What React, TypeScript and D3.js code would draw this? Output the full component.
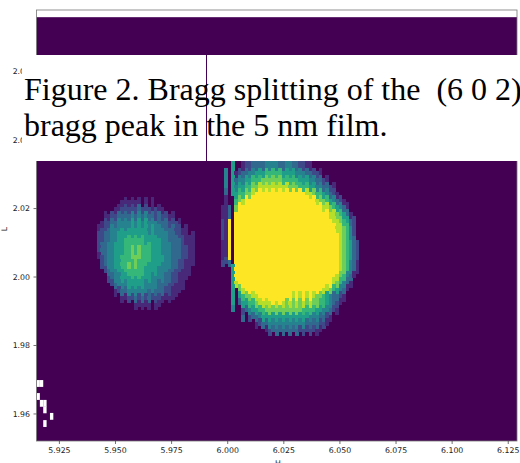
import React from "react";
import * as d3 from "d3";

const xTicks = [5.925, 5.95, 5.975, 6.0, 6.025, 6.05, 6.075, 6.1, 6.125];
const yTicks = [1.96, 1.98, 2.0, 2.02, 2.04, 2.06];
const xLabel = "H";
const yLabel = "L";
const captionLines = ["Figure 2. Bragg splitting of the  (6 0 2)", "bragg peak in the 5 nm film."];

// Intensity levels 0-9 per row (top to bottom, left to right)
const mainPeakLevels = [
  "0000500122333344443344332211",
  "0000500122333344443344332211",
  "0040512334455566666555544433221",
  "004053445566677777766666555443321",
  "00405455667788888888877766655443321",
  "00305566778" + "9999999999" + "99999" + "8876654321",
  "00100678" + "9999999999" + "9999999999" + "9" + "877654321",
  "011307" + "9999999999" + "9999999999" + "99999" + "88765431",
  "01130" + "9999999999" + "9999999999" + "99999999" + "8876531",
  "02190" + "9999999999" + "9999999999" + "999999999" + "8876532",
  "02190" + "9999999999" + "9999999999" + "9999999999" + "887642",
  "02190" + "9999999999" + "9999999999" + "9999999999" + "9" + "87642",
  "01190" + "9999999999" + "9999999999" + "9999999999" + "9" + "876532",
  "01190" + "9999999999" + "9999999999" + "9999999999" + "9" + "876532",
  "01190" + "9999999999" + "9999999999" + "9999999999" + "9" + "876532",
  "02230" + "9999999999" + "9999999999" + "9999999999" + "9" + "876431",
  "00005" + "9999999999" + "9999999999" + "9999999999" + "9" + "876431",
  "00005" + "9999999999" + "9999999999" + "9999999999" + "876431",
  "000058" + "9999999999" + "9999999999" + "99999999" + "876431",
  "00005078" + "9999999999" + "9999999999" + "999" + "88765431",
  "0000505677889999" + "99999" + "9898989" + "8776543321",
  "000050355667888" + "8989878787878" + "776654321",
  "000040023455667777777777766665544321",
  "0000000302334555555555555554443321",
  "00000000000123344444444444333322" + "1",
  "00000000000000123333333322222" + "11",
];

const sidePeakLevels = [
  "00000001111110101",
  "00000112222232221211",
  "00112233334343433232211",
  "0122334444545454443332221",
  "122344454555555454443332211",
  "22334455565656555544433322111",
  "23344555666666565554443332111",
  "23344555667676665554443332211",
  "12344556667776665555443332211",
  "02344556676766655554443322111",
  "0023445566666655554443322111",
  "000234455565655544443322111",
  "00002344455555444433322111",
  "0000012334444443433322111",
  "00000001122323232221111",
  "0000000000011111011",
];

// Missing (white) cells near the lower left corner: column index, L centre
const missingCols = [0, 1, 0, 1, 2, 2, 4, 2];
const missingL = [1.9689, 1.9689, 1.9651, 1.9631, 1.9631, 1.9612, 1.9593, 1.9572];

const mainTopL = 2.0359;
const mainStartH = 5.9955;
const sideTopL = 2.02336;
const sideStartH = 5.9417;
const startH = 5.9148;
const endH = 6.1289;
const heatTopL = 2.0759;
const axisTopL = 2.078;
const axisBottomL = 1.9521;
const dH = 0.0015;
const dL = 0.002;

const W = 520;
const H = 463;
const PURPLE = "#440154";
const MONO = "'DejaVu Sans', sans-serif";

export default function App() {
  const x = d3.scaleLinear().domain([startH, endH]).range([36.5, 517]);
  const y = d3.scaleLinear().domain([axisBottomL, axisTopL]).range([441, 10]);
  const color = d3.scaleSequential(d3.interpolateViridis).domain([0, 9]);
  const cw = x(startH + dH) - x(startH);
  const ch = y(1.96) - y(1.96 + dL);

  const drawCells = (rows: string[], h0: number, l0: number, key: string) =>
    rows.flatMap((row, r) =>
      row.split("").map((c, i) => {
        const v = +c;
        if (!v) return null;
        const top = l0 - r * dL - (i % 2 ? dL / 2 : 0);
        return (
          <rect
            key={`${key}-${r}-${i}`}
            x={x(h0 + i * dH)}
            y={y(top)}
            width={cw + 0.3}
            height={ch + 0.3}
            fill={color(v) as string}
            shapeRendering="crispEdges"
          />
        );
      })
    );

  return (
    <svg
      width={W}
      height={H}
      viewBox={`0 0 ${W} ${H}`}
      style={{ position: "fixed", left: 0, top: 0, display: "block", background: "#fff" }}
    >
      <rect
        x={x(startH)}
        y={y(heatTopL)}
        width={x(endH) - x(startH)}
        height={y(axisBottomL) - y(heatTopL)}
        fill={PURPLE}
      />
      {drawCells(sidePeakLevels, sideStartH, sideTopL, "s")}
      {drawCells(mainPeakLevels, mainStartH, mainTopL, "m")}
      {missingCols.map((c, i) => (
        <rect
          key={`n${i}`}
          x={x(startH + c * dH)}
          y={y(missingL[i] + dL / 2)}
          width={cw}
          height={ch}
          fill="#fff"
        />
      ))}
      <rect
        x={x.range()[0]}
        y={y(axisTopL)}
        width={x.range()[1] - x.range()[0]}
        height={y(axisBottomL) - y(axisTopL)}
        fill="none"
        stroke="#777"
        strokeWidth={0.8}
      />
      {xTicks.map((t) => (
        <g key={t} transform={`translate(${x(t)},441)`}>
          <line y2={3} stroke="#333" strokeWidth={0.7} />
          <text y={12} textAnchor="middle" fontFamily={MONO} fontSize={7.8} fill="#222">
            {d3.format(".3f")(t)}
          </text>
        </g>
      ))}
      {yTicks.map((t) => (
        <g key={t} transform={`translate(36.5,${y(t)})`}>
          <line x2={-3} stroke="#333" strokeWidth={0.7} />
          <text x={-6.5} dy="0.35em" textAnchor="end" fontFamily={MONO} fontSize={7.8} fill="#222">
            {d3.format(".2f")(t)}
          </text>
        </g>
      ))}
      <text x={278} y={466} textAnchor="middle" fontFamily={MONO} fontSize={7.8} fill="#222">
        {xLabel}
      </text>
      <text
        transform="translate(7,229) rotate(-90)"
        textAnchor="middle"
        fontFamily={MONO}
        fontSize={7.8}
        fill="#222"
      >
        {yLabel}
      </text>
      <rect x={22} y={55} width={184} height={106} fill="#fff" />
      <rect x={207} y={55} width={313} height={106} fill="#fff" />
      {captionLines.map((line, i) => (
        <text
          key={i}
          x={24}
          y={99.5 + i * 36.5}
          fontFamily="'Liberation Serif', serif"
          fontSize={32}
          fill="#000"
          style={{ whiteSpace: "pre" }}
        >
          {line}
        </text>
      ))}
    </svg>
  );
}
